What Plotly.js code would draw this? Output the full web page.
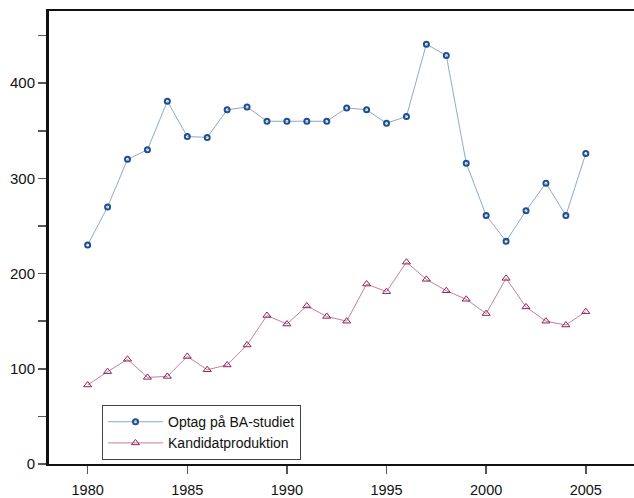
<!DOCTYPE html>
<html>
<head>
<meta charset="utf-8">
<script src="https://cdn.plot.ly/plotly-3.0.1.min.js"></script>
<style>html,body{margin:0;padding:0;background:#fff;}#chart{width:634px;height:498px;}</style>
</head>
<body>
<div id="chart"></div>
<script>
var years = [1980,1981,1982,1983,1984,1985,1986,1987,1988,1989,1990,1991,1992,1993,1994,1995,1996,1997,1998,1999,2000,2001,2002,2003,2004,2005];
var optag = [230,270,320,330,381,344,343,372,375,360,360,360,360,374,372,358,365,441,429,316,261,234,266,295,261,326];
var kandidat = [83,97,110,91,92,113,99,104,125,156,147,166,155,150,189,181,212,194,182,173,158,195,165,150,146,160];
var seriesNames = ["Optag på BA-studiet", "Kandidatproduktion"];

var traces = [
  {x: years, y: optag, name: seriesNames[0], type: 'scatter', mode: 'lines+markers',
   line: {color: '#8ea9cf', width: 1},
   marker: {symbol: 'circle-open', size: 5, color: '#1f4f8f', line: {width: 2, color: '#1f4f8f'}}},
  {x: years, y: kandidat, name: seriesNames[1], type: 'scatter', mode: 'lines+markers',
   line: {color: '#c87ea2', width: 1},
   marker: {symbol: 'triangle-up-open', size: 7, color: '#8b2456', line: {width: 1, color: '#8b2456'}}}
];

var layout = {
  width: 634, height: 498,
  margin: {l: 49, r: 0, t: 11, b: 34},
  paper_bgcolor: '#fff', plot_bgcolor: '#fff',
  font: {family: 'Liberation Sans, Arial, sans-serif', size: 15, color: '#111'},
  showlegend: true,
  legend: {x: 0.0906, y: 0.13, xanchor: 'left', yanchor: 'top',
    bordercolor: '#444', borderwidth: 1, bgcolor: '#fff', itemwidth: 55,
    font: {size: 14, color: '#111'}, tracegroupgap: 0},
  xaxis: {range: [1978.06, 2007.42], tickmode: 'linear', tick0: 1980, dtick: 5,
    showgrid: false, zeroline: false, showline: true, linewidth: 2, linecolor: '#111', mirror: true,
    ticks: 'outside', ticklen: 8, tickcolor: '#555', tickwidth: 1.5, ticklabelstandoff: 4,
    tickfont: {size: 14.5}},
  yaxis: {range: [0, 475.8], tickmode: 'linear', tick0: 0, dtick: 100,
    showgrid: false, zeroline: false, showline: true, linewidth: 3, linecolor: '#111',
    ticks: 'outside', ticklen: 8, tickcolor: '#555', tickwidth: 1.5,
    tickfont: {size: 15},
    minor: {dtick: 50, ticks: 'outside', ticklen: 8, tickcolor: '#555', tickwidth: 1.5, showgrid: false}}
};

Plotly.newPlot('chart', traces, layout, {displayModeBar: false, staticPlot: true});
</script>
</body>
</html>
